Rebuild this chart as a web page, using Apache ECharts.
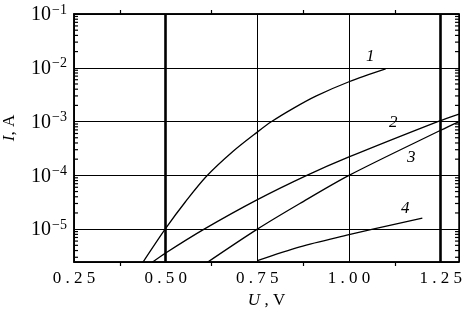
<!DOCTYPE html>
<html>
<head>
<meta charset="utf-8">
<script src="https://cdn.jsdelivr.net/npm/echarts@6/dist/echarts.min.js"></script>
<style>
html, body { margin: 0; padding: 0; background: #fff; }
#chart { width: 462px; height: 313px; }
</style>
</head>
<body>
<div id="chart"></div>
<script>
// U, V  /  I, A 
let curve1 = [[0.43, 2.0e-6], [0.50, 1.03e-5], [0.555, 3.3e-5], [0.612, 9.7e-5], [0.684, 2.8e-4], [0.749, 6.3e-4],
    [0.789, 1.0e-3], [0.848, 1.76e-3], [0.911, 3.0e-3], [1.0, 5.5e-3], [1.1, 9.5e-3]]
let curve2 = [[0.455, 2.2e-6], [0.50, 3.6e-6], [0.605, 1.0e-5], [0.749, 3.5e-5], [0.885, 1.0e-4],
    [1.0, 2.2e-4], [1.242, 1.0e-3], [1.3, 1.38e-3]]
let curve3 = [[0.605, 2.2e-6], [0.75, 1.0e-5], [0.866, 3.0e-5], [1.0, 1.0e-4], [1.25, 6.9e-4], [1.3, 1.0e-3]]
let curve4 = [[0.75, 2.6e-6], [0.866, 4.7e-6], [1.0, 7.9e-6], [1.065, 1.0e-5], [1.2, 1.6e-5]]
let curveNames = ['1', '2', '3', '4']
let thickLines = [0.5, 1.25]

let xMin = 0.25, xMax = 1.3
let yMin = 2.45e-6, yMax = 0.1

// log minor ticks 2..9 per decade
let yMinor = []
for (let e = -6; e <= -2; e++) {
    for (let k = 2; k <= 9; k++) {
        let v = k * Math.pow(10, e)
        if (v > yMin && v < yMax) yMinor.push([v])
    }
}

let serif = '"Liberation Serif", "DejaVu Serif", serif'

function lineSeries(name, data, extra) {
    return Object.assign({
        name: name,
        type: 'line',
        data: data,
        smooth: 0.3,
        showSymbol: false,
        symbol: 'none',
        clip: true,
        silent: true,
        lineStyle: { color: '#000', width: 1.3 },
        z: 5
    }, extra || {})
}

let xAxisBase = {
    type: 'value',
    min: xMin,
    max: xMax,
    interval: 0.25,
    axisLine: { show: true, lineStyle: { color: '#000', width: 1.5 } },
    axisTick: { show: false },
    minorTick: { show: true, splitNumber: 2, length: 4, lineStyle: { color: '#000', width: 1.2 } },
    splitLine: { show: false }
}

let option = {
    animation: false,
    backgroundColor: '#fff',
    grid: {
        left: 74,
        right: 3,
        top: 14,
        bottom: 51,
        outerBoundsMode: 'none',
        show: true,
        borderColor: '#000',
        borderWidth: 1.5,
        backgroundColor: 'transparent'
    },
    xAxis: [
        Object.assign({}, xAxisBase, {
            position: 'bottom',
            name: '{i|U} , V',
            nameLocation: 'middle',
            nameGap: 28,
            nameTextStyle: {
                fontFamily: serif, fontSize: 17, color: '#000',
                rich: { i: { fontFamily: serif, fontSize: 17, fontStyle: 'italic', color: '#000' } }
            },
            axisLabel: {
                fontFamily: serif,
                fontSize: 17,
                color: '#000',
                margin: 8,
                showMaxLabel: false,
                formatter: function(v) {
                    if (Math.abs(v * 4 - Math.round(v * 4)) > 1e-6) return ''
                    return v.toFixed(2).split('').join(' ')
                }
            },
            splitLine: { show: true, lineStyle: { color: '#000', width: 1 } }
        }),
        Object.assign({}, xAxisBase, {
            position: 'top',
            axisLabel: { show: false }
        })
    ],
    yAxis: {
        type: 'log',
        logBase: 10,
        min: yMin,
        max: yMax,
        name: '{i|I}, A',
        nameLocation: 'middle',
        nameRotate: 90,
        nameGap: 56,
        nameTextStyle: {
            fontFamily: serif, fontSize: 17, color: '#000',
            padding: [0, 0, 0, 20],
            rich: { i: { fontFamily: serif, fontSize: 17, fontStyle: 'italic', color: '#000' } }
        },
        axisLine: { show: true, lineStyle: { color: '#000', width: 1.5 } },
        axisTick: { show: false },
        minorTick: { show: false },
        splitLine: { show: true, lineStyle: { color: '#000', width: 1 } },
        axisLabel: {
            margin: 7,
            color: '#000',
            formatter: function(v) {
                let e = Math.log10(v)
                let r = Math.round(e)
                if (Math.abs(e - r) > 1e-3) return ''
                return '{b|10}{s|\u2212' + (-r) + '}'
            },
            rich: {
                b: { fontFamily: serif, fontSize: 20, color: '#000', lineHeight: 22, verticalAlign: 'bottom' },
                s: { fontFamily: serif, fontSize: 14, color: '#000', lineHeight: 22, verticalAlign: 'top', padding: [0, 0, 8, 1] }
            }
        }
    },
    graphic: [
        { type: 'text', left: 366, top: 48, style: { text: curveNames[0], font: 'italic 17px ' + serif, fill: '#000' } },
        { type: 'text', left: 389, top: 114, style: { text: curveNames[1], font: 'italic 17px ' + serif, fill: '#000' } },
        { type: 'text', left: 407, top: 149, style: { text: curveNames[2], font: 'italic 17px ' + serif, fill: '#000' } },
        { type: 'text', left: 401, top: 200, style: { text: curveNames[3], font: 'italic 17px ' + serif, fill: '#000' } }
    ],
    series: [
        lineSeries(curveNames[0], curve1, {
            markLine: {
                silent: true,
                symbol: 'none',
                label: { show: false },
                lineStyle: { color: '#000', width: 2.6, type: 'solid' },
                data: thickLines.map(function(x) { return { xAxis: x } })
            }
        }),
        lineSeries(curveNames[1], curve2),
        lineSeries(curveNames[2], curve3),
        lineSeries(curveNames[3], curve4),
        {
            type: 'custom',
            silent: true,
            data: yMinor,
            encode: { y: 0 },
            renderItem: function(params, api) {
                let v = api.value(0)
                let pL = api.coord([xMin, v])
                let pR = api.coord([xMax, v])
                let st = { stroke: '#000', lineWidth: 1.2 }
                return {
                    type: 'group',
                    children: [
                        { type: 'line', shape: { x1: pL[0], y1: pL[1], x2: pL[0] + 4, y2: pL[1] }, style: st },
                        { type: 'line', shape: { x1: pR[0], y1: pR[1], x2: pR[0] - 4, y2: pR[1] }, style: st }
                    ]
                }
            },
            z: 6
        }
    ]
}

var myChart = echarts.init(document.getElementById('chart'))
myChart.setOption(option)
</script>
</body>
</html>
